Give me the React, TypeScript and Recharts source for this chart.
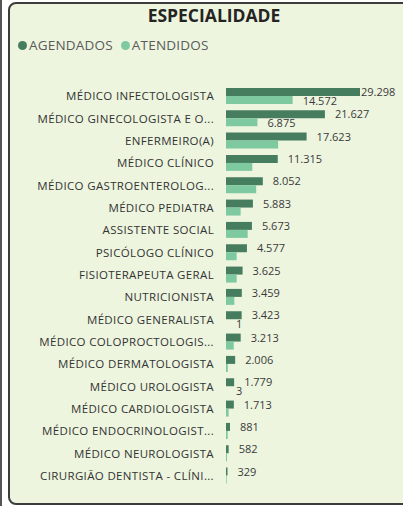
import React from 'react'
import { BarChart, Bar, XAxis, YAxis, LabelList } from 'recharts'

const categorias = [
    'MÉDICO INFECTOLOGISTA',
    'MÉDICO GINECOLOGISTA E O...',
    'ENFERMEIRO(A)',
    'MÉDICO CLÍNICO',
    'MÉDICO GASTROENTEROLOG...',
    'MÉDICO PEDIATRA',
    'ASSISTENTE SOCIAL',
    'PSICÓLOGO CLÍNICO',
    'FISIOTERAPEUTA GERAL',
    'NUTRICIONISTA',
    'MÉDICO GENERALISTA',
    'MÉDICO COLOPROCTOLOGIS...',
    'MÉDICO DERMATOLOGISTA',
    'MÉDICO UROLOGISTA',
    'MÉDICO CARDIOLOGISTA',
    'MÉDICO ENDOCRINOLOGIST...',
    'MÉDICO NEUROLOGISTA',
    'CIRURGIÃO DENTISTA - CLÍNI...',
]

const agendados = [29298, 21627, 17623, 11315, 8052, 5883, 5673, 4577, 3625, 3459, 3423, 3213, 2006, 1779, 1713, 881, 582, 329]
const atendidos = [14572, 6875, 11400, 5750, 6600, 3200, 4740, 2330, 2330, 1820, 1, 1700, 400, 3, 580, 370, 220, 150]

const COR_AGENDADOS = '#477d5f'
const COR_ATENDIDOS = '#7fc9a1'
const FONTE = '"Open Sans", sans-serif'
const LIMITE_DIREITO = 398

const chartData = categorias.map((nome, i) => ({
    nome,
    agendados: agendados[i],
    atendidos: atendidos[i],
}))

// pt-BR thousands separator
const fmt = (v: number) => String(v).replace(/\B(?=(\d{3})+(?!\d))/g, '.')
const larguraTexto = (s: string) => s.length * 6.1

function LabelAgendados(props: any) {
    const { x, y, width, height, value } = props
    const txt = fmt(value)
    let tx = x + width + 10
    if (tx + larguraTexto(txt) > LIMITE_DIREITO) tx = x + width + 1
    return (
        <text x={tx} y={y + height / 2} dy={4} fontSize={11} fill="#3a3a3a" fontFamily={FONTE}>
            {txt}
        </text>
    )
}

function LabelAtendidos(props: any) {
    const { x, y, width, height, value, index } = props
    const txt = fmt(value)
    // hide when it would collide with the AGENDADOS label
    const fimEscuro = x + (width * agendados[index]) / value
    if (x + width + larguraTexto(txt) >= fimEscuro) return null
    return (
        <text x={x + width + 10} y={y + height / 2} dy={5} fontSize={11} fill="#3a3a3a" fontFamily={FONTE}>
            {txt}
        </text>
    )
}

export default function App() {
    return (
        <div style={{ position: 'absolute', left: 0, top: 0, width: 403, height: 506, background: '#fff', overflow: 'hidden', fontFamily: FONTE }}>
            <div style={{ position: 'absolute', left: 0, top: 0, width: 2, height: 506, background: '#555' }} />
            <div
                style={{
                    position: 'absolute',
                    left: 8,
                    top: 2,
                    width: 406,
                    height: 499,
                    background: '#edf5df',
                    border: '2px solid #3c3c3c',
                    borderRadius: 8,
                }}
            />
            <div
                style={{
                    position: 'absolute',
                    left: 10,
                    top: 2,
                    width: 408,
                    textAlign: 'center',
                    fontSize: 17.5,
                    lineHeight: '26px',
                    fontWeight: 700,
                    color: '#252423',
                }}
            >
                ESPECIALIDADE
            </div>
            <div style={{ position: 'absolute', left: 18, top: 36, display: 'flex', alignItems: 'center', fontSize: 13.5, color: '#5a5a5a', letterSpacing: 0.2 }}>
                <span style={{ width: 9, height: 9, borderRadius: 5, background: COR_AGENDADOS, display: 'inline-block', marginRight: 2 }} />
                <span style={{ marginRight: 8 }}>AGENDADOS</span>
                <span style={{ width: 9, height: 9, borderRadius: 5, background: COR_ATENDIDOS, display: 'inline-block', marginRight: 2 }} />
                <span>ATENDIDOS</span>
            </div>
            <BarChart
                style={{ position: 'absolute', left: 0, top: 0 }}
                width={403}
                height={506}
                layout="vertical"
                data={chartData}
                margin={{ top: 85, right: 43, bottom: 19, left: 0 }}
                barGap={0}
                barCategoryGap="13%"
            >
                <XAxis type="number" hide domain={[0, 'dataMax']} />
                <YAxis
                    type="category"
                    dataKey="nome"
                    width={226}
                    axisLine={false}
                    tickLine={false}
                    interval={0}
                    tick={({ x, y, payload }: any) => (
                        <text x={x - 4} y={y} dy={4} textAnchor="end" fontSize={11.5} fill="#333" fontFamily={FONTE} letterSpacing={0.35}>
                            {payload.value}
                        </text>
                    )}
                />
                <Bar dataKey="agendados" fill={COR_AGENDADOS} isAnimationActive={false}>
                    <LabelList dataKey="agendados" content={LabelAgendados} />
                </Bar>
                <Bar dataKey="atendidos" fill={COR_ATENDIDOS} isAnimationActive={false}>
                    <LabelList dataKey="atendidos" content={LabelAtendidos} />
                </Bar>
            </BarChart>
        </div>
    )
}
